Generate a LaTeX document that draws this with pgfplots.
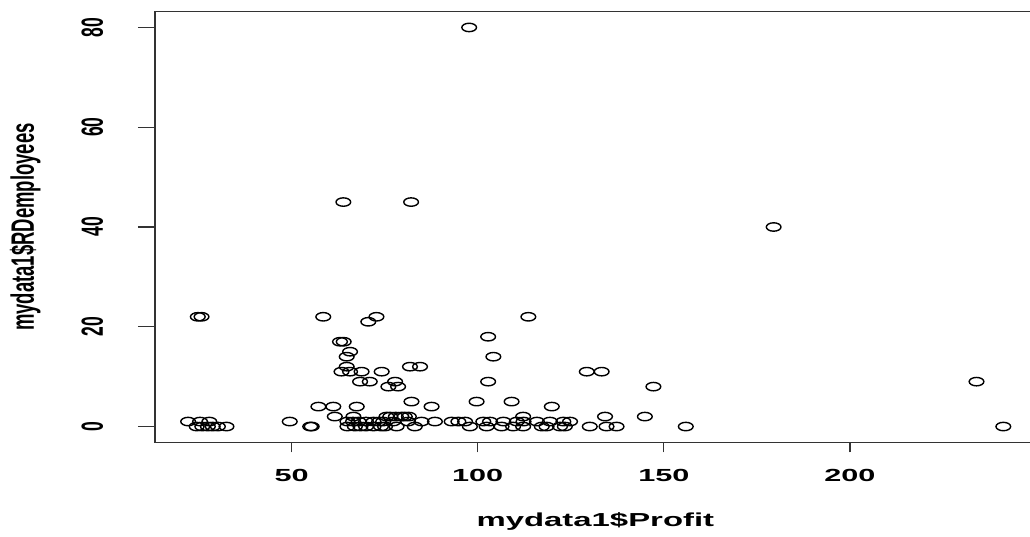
\documentclass[border=0pt]{standalone}
\usepackage{fontspec}
\setmainfont{Liberation Sans}
\usepackage{graphicx}
\usepackage{pgfplots}
\pgfplotsset{compat=1.18}
\begin{document}
\begin{tikzpicture}
\useasboundingbox (-155pt,-94.5pt) rectangle (875pt,442.5pt);
\begin{axis}[
  at={(0pt,0pt)}, anchor=south west,
  scale only axis, width=880.7pt, height=431pt,
  xmin=13.3, xmax=249.9, ymin=-3.2, ymax=83.2,
  xtick={50,100,150,200}, ytick={0,20,40,60,80},
  tick pos=left, tick align=outside, major tick length=10pt,
  ytick style={/pgfplots/major tick length=17pt},
  axis line style={line width=1.4pt, black!80},
  tick style={line width=1.3pt, black!80},
  /pgf/number format/assume math mode=true,
  ticklabel style={font=\fontsize{17.5}{20}\selectfont\bfseries},
  xticklabel style={anchor=base, yshift=-29pt, xscale=1.75},
  yticklabel={\scalebox{1}[1.75]{\pgfmathprintnumber{\tick}}},
  yticklabel style={anchor=base, xshift=-42pt, rotate=90},
  xlabel={mydata1\$Profit},
  ylabel={mydata1\$RDemployees},
  every axis x label/.style={at={(axis description cs:0.5,0)}, yshift=-84.5pt, xscale=1.75, anchor=base, font=\fontsize{18.8}{22}\selectfont\bfseries},
  every axis y label/.style={at={(axis description cs:0,0.5)}, xshift=-121pt, xscale=1.75, rotate=90, anchor=base, font=\fontsize{18.5}{22}\selectfont\bfseries},
]
\addplot[only marks, mark=o, mark size=4.2pt, mark options={xscale=1.75, line width=1.4pt, black}] coordinates {
(22.2,1) (25.4,1) (27.9,1)
(24.5,0) (26.0,0) (27.5,0) (28.8,0) (30.2,0) (32.5,0)
(24.8,22) (25.8,22)
(49.5,1) (55.0,0) (55.4,0)
(57.2,4) (61.2,4) (67.5,4)
(61.6,2) (66.6,2)
(58.5,22) (70.6,21) (72.8,22)
(63.0,17) (64.0,17) (65.7,15) (64.8,14) (64.8,12)
(63.4,11) (65.7,11) (68.8,11) (74.2,11)
(81.8,12) (84.5,12)
(68.4,9) (71.0,9) (77.8,9)
(76.0,8) (78.6,8)
(63.9,45) (82.1,45)
(65,1) (66.5,1) (68,1) (70,1) (72,1) (73.5,1)
(65,0) (67,0) (68.5,0) (70,0) (72,0) (74,0)
(75.5,2) (76.5,2) (78,2) (79.5,2) (80.4,2) (81.5,2)
(82.2,5) (87.6,4) (99.7,5) (109.1,5) (119.9,4) (112.2,2) (134.2,2) (144.9,2) (147.2,8)
(129.3,11) (133.3,11)
(102.8,9) (104.2,14) (102.8,18) (113.6,22)
(74.6,1) (77.3,1) (81.3,1) (84.9,1) (88.5,1) (93,1) (94.8,1) (96.6,1) (101.5,1) (103.3,1) (106.9,1) (110.5,1) (112.3,1) (115.9,1) (119.4,1) (123,1) (124.8,1)
(75.1,0) (78.2,0) (83.1,0) (97.9,0) (102.4,0) (106.4,0) (109.5,0) (112.2,0) (117.2,0) (118.5,0) (122.1,0) (123.4,0) (130.1,0) (134.6,0) (137.3,0) (155.9,0)
(234,9) (241.2,0) (179.5,40) (97.7,80)
};
\end{axis}
\end{tikzpicture}
\end{document}
